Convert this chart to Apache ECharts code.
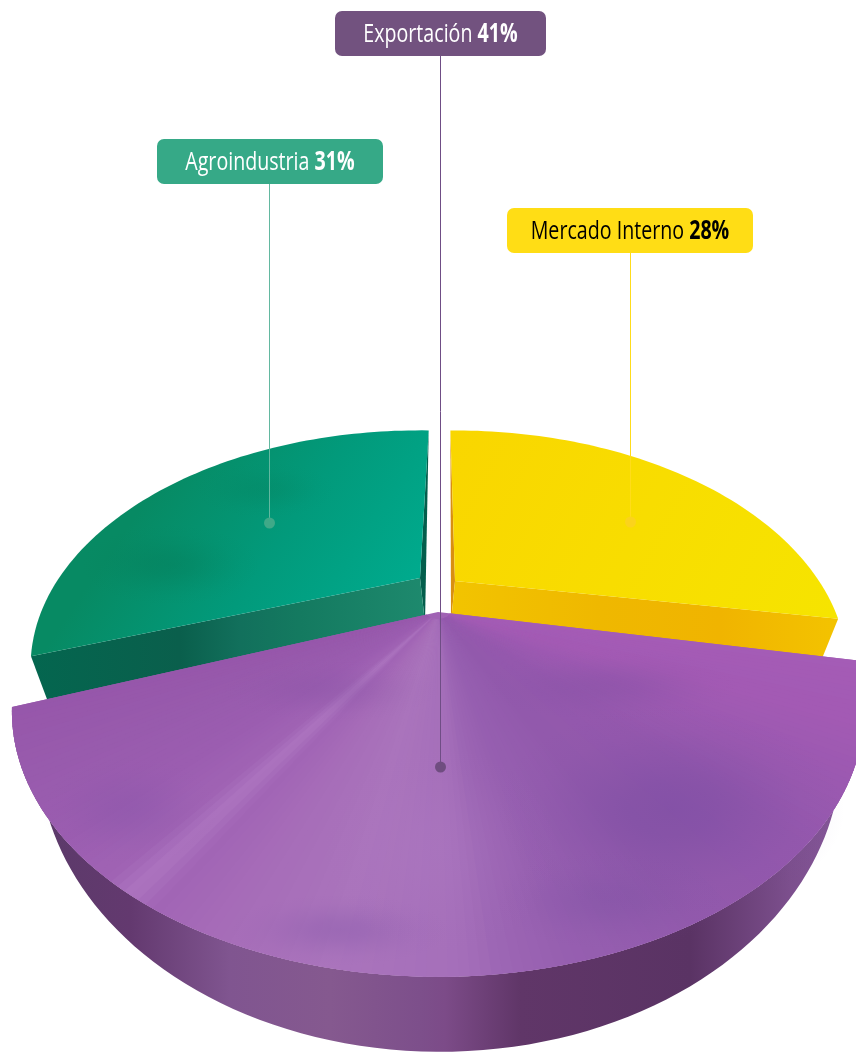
<!DOCTYPE html>
<html><head><meta charset="utf-8">
<style>html,body{margin:0;padding:0;background:#fff}#c{width:856px;height:1053px}</style>
<script src="https://cdn.jsdelivr.net/npm/echarts@6/dist/echarts.min.js"></script>
</head><body><div id="c"></div>
<script>
// ---- data (in the pie's clockwise order) ----
const categories = ['Mercado Interno', 'Exportación', 'Agroindustria'];
const values = [28, 41, 31];

// ---- layout / style ----
const START = -89.5, KP = 0.375;
const styles = [
 { z:2, spin:-1.5,
   top:{cx:455,cy:581,R:364,Rq:207}, low:{cx:451,cy:622,R:352,Rq:207},
   grad:[450,430,830,620,[[0,'#f9d600'],[.5,'#f8dd00'],[1,'#f6e400']]],
   wall:[[450,'#f2c400'],[600,'#efb800'],[720,'#f0b400'],[830,'#f3c200']],
   strip:'#d98f10', blobs:[],
   box:[507,208,246,45], fill:'#ffdd15', txt:'#000', lineX:630.5, dotY:522, dot:'#fbd31c', line:'#ffdc1a' },
 { z:10, spin:0, base:'#a063b4',
   top:{cx:438,cy:612,R:395,Rq:228}, low:{cx:440,cy:639,R:372,Rq:258},
   surf:[[10,'#a45cb6'],[24,'#a35ab4'],[38,'#9a59b0'],[48,'#9458ad'],[64,'#9259ac'],[78,'#965fb0'],[84,'#9c66b4'],[88,'#a56fba'],[100,'#aa74bc'],[112,'#a66cb8'],[119,'#a165b5'],[122.2,'#ac74bf'],[125.4,'#a063b4'],[134,'#9b5db0'],[146,'#985bad'],[160,'#9656aa']],
   wall:[[50,'#5c3a6a'],[130,'#63396f'],[230,'#805590'],[330,'#85598f'],[420,'#7d4f8b'],[445,'#7c4b88'],[520,'#603668'],[690,'#5a3364'],[790,'#7c4f8d'],[850,'#86589a']],
   blobs:[
     [670,810,175,105,'rgba(112,72,158,0.42)'],[610,900,115,50,'rgba(118,78,160,0.3)'],
     [610,685,130,36,'rgba(125,78,160,0.3)'],[340,930,110,36,'rgba(125,80,165,0.3)'],
     [130,810,90,55,'rgba(125,80,165,0.25)'],[330,690,110,32,'rgba(128,80,160,0.25)'],
     [440,850,120,105,'rgba(180,130,200,0.2)']],
   box:[335,11,211,45], fill:'#72527f', txt:'#fff', lineX:440.5, dotY:767, dot:'#6f4d80', line:'#6f4d85' },
 { z:2, spin:1.4,
   top:{cx:420,cy:578,R:361,Rq:203}, low:{cx:425,cy:623,R:350,Rq:203},
   grad:[180,450,400,600,[[0,'#078a63'],[.5,'#029a7b'],[1,'#00aa8d']]],
   wall:[[30,'#04664f'],[180,'#0a5f4c'],[240,'#12705c'],[300,'#147a60'],[430,'#1e8a6e']],
   strip:'#035e4c',
   blobs:[[170,565,90,40,'rgba(5,115,80,0.3)'],[265,490,70,28,'rgba(5,125,90,0.25)']],
   box:[157,139,226,45], fill:'#36a987', txt:'#fff', lineX:269.5, dotY:523, dot:'#3fa988', line:'#63b8a0' }
];
const FONT = "'Open Sans',sans-serif", FONT_SIZE = 26, TEXT_SQUEEZE = 0.755;
const FALLOFF = [[0,1],[.25,.82],[.5,.45],[.75,.13],[1,0]];

function proj(p, deg, f){
  const t = deg*Math.PI/180, u = Math.cos(t)*f, v = Math.sin(t)*f, w = 1-KP*v;
  return [p.cx + p.R*u/w, p.cy + p.Rq*v/w];
}
function arc(p, a, b){
  const pts=[], n=Math.max(2,Math.ceil(Math.abs(b-a)/1.5));
  for(let i=0;i<=n;i++) pts.push(proj(p, a+(b-a)*i/n, 1));
  return pts;
}
function hex(c){return [1,3,5].map(i=>parseInt(c.substr(i,2),16));}
function mix(stops, x){
  if(x<=stops[0][0]) return stops[0][1];
  for(let i=1;i<stops.length;i++) if(x<=stops[i][0]){
    const a=stops[i-1],b=stops[i],f=(x-a[0])/(b[0]-a[0]),A=hex(a[1]),B=hex(b[1]);
    return 'rgb('+A.map((q,k)=>Math.round(q+(B[k]-q)*f)).join(',')+')';
  }
  return stops[stops.length-1][1];
}
function hGrad(stops){
  const x0=stops[0][0], x1=stops[stops.length-1][0];
  return {type:'linear',x:x0,y:0,x2:x1,y2:0,global:true,
    colorStops:stops.map(s=>({offset:(s[0]-x0)/(x1-x0),color:s[1]}))};
}
function poly(points, fill, z2){
  return {type:'polygon',silent:true,z2:z2,shape:{points:points},style:{fill:fill}};
}
function startOf(i){
  let s=START; for(let k=0;k<i;k++) s+=values[k]/100*360; return s;
}
function renderItem(params, api){
  const i=params.dataIndex, st=styles[i], val=api.value(1);
  const a=startOf(i)+st.spin, b=a+val/100*360;
  const kids=[], z=st.z;
  // walls
  if(st.strip){
    const back = i===0 ? a : b, front = i===0 ? b : a;
    kids.push(poly([proj(st.top,back,1),proj(st.low,back,0),proj(st.top,back,0)],st.strip,z));
    kids.push(poly([proj(st.top,front,0),proj(st.top,front,1),proj(st.low,front,1),proj(st.low,front,0)],hGrad(st.wall),z));
  } else {
    kids.push(poly(arc(st.top,a,b).concat(arc(st.low,a,b).reverse()),hGrad(st.wall),z));
  }
  // top surface
  if(st.grad){
    const g=st.grad;
    kids.push(poly([proj(st.top,a,0)].concat(arc(st.top,a,b)),
      {type:'linear',x:g[0],y:g[1],x2:g[2],y2:g[3],global:true,
       colorStops:g[4].map(s=>({offset:s[0],color:s[1]}))},z+1));
  } else {
    kids.push(poly([proj(st.top,a,0)].concat(arc(st.top,a,b)),st.base,z+0.5));
    const n=Math.ceil(b-a), f0=0.03;
    for(let k=0;k<n;k++){
      const t0=a+(b-a)*k/n, t1=Math.min(b,t0+(b-a)/n+0.3), c=mix(st.surf,t0+(b-a)/n/2);
      kids.push(poly([proj(st.top,t0,f0),proj(st.top,t0,1),proj(st.top,t1,1),proj(st.top,t1,f0)],c,z+1+k*0.001));
    }
  }
  // soft mottling painted on the surface
  st.blobs.forEach(function(m){
    const rgba=m[4], al=parseFloat(rgba.match(/[\d.]+\)$/)[0]), at=x=>rgba.replace(/[\d.]+\)$/,x.toFixed(3)+')');
    kids.push({type:'circle',silent:true,z2:z+2,x:m[0],y:m[1],scaleX:m[2]/100,scaleY:m[3]/100,shape:{cx:0,cy:0,r:100},
      style:{fill:{type:'radial',x:.5,y:.5,r:.5,colorStops:FALLOFF.map(s=>({offset:s[0],color:at(al*s[1])}))}}});
  });
  // leader, dot, label
  const bx=st.box;
  kids.push({type:'line',silent:true,z2:30,shape:{x1:st.lineX,y1:bx[1]+bx[3],x2:st.lineX,y2:st.dotY},
    style:{stroke:st.line,lineWidth:1}});
  kids.push({type:'circle',silent:true,z2:31,shape:{cx:st.lineX,cy:st.dotY,r:5.5},style:{fill:st.dot}});
  kids.push({type:'rect',silent:true,z2:32,shape:{x:bx[0],y:bx[1],width:bx[2],height:bx[3],r:7},style:{fill:st.fill}});
  kids.push({type:'text',silent:true,z2:33,x:bx[0]+bx[2]/2,y:bx[1]+bx[3]/2+1.5,scaleX:TEXT_SQUEEZE,style:{
    text:'{n|'+categories[i]+' }{v|'+val+'%}',align:'center',verticalAlign:'middle',
    rich:{n:{fontFamily:FONT,fontSize:FONT_SIZE,fill:st.txt,fontWeight:'normal'},
          v:{fontFamily:FONT,fontSize:FONT_SIZE,fill:st.txt,fontWeight:'bold'}}}});
  return {type:'group',children:kids};
}
const chart=echarts.init(document.getElementById('c'),null,{renderer:'canvas'});
chart.setOption({
  animation:false,
  backgroundColor:'#fff',
  series:[{type:'custom',coordinateSystem:'none',renderItem:renderItem,
    data:categories.map((c,i)=>({name:c,value:[i,values[i]]}))}]
});
</script></body></html>
